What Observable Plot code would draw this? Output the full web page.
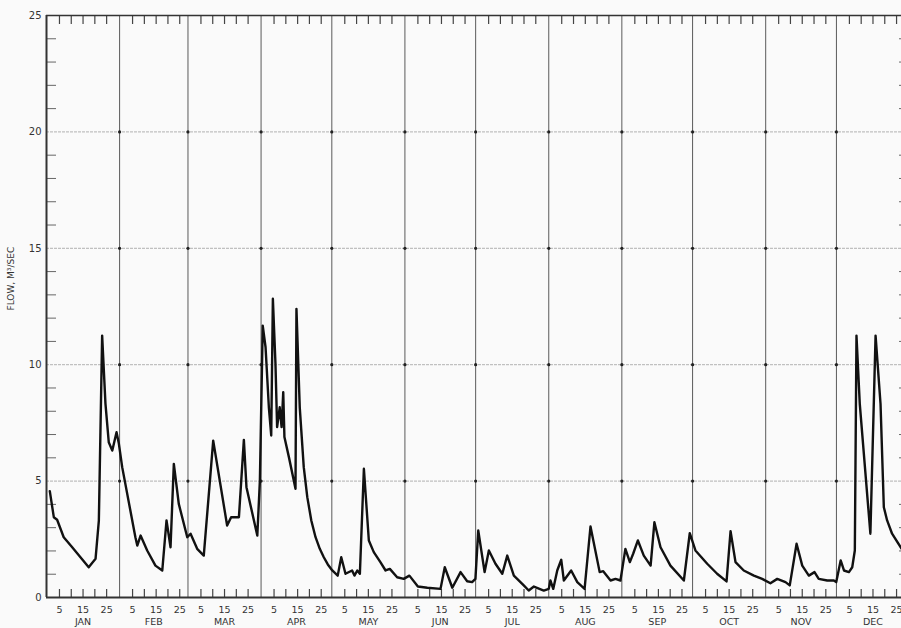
<!DOCTYPE html>
<html>
<head>
<meta charset="utf-8">
<script src="https://cdn.jsdelivr.net/npm/d3@7"></script>
<script src="https://cdn.jsdelivr.net/npm/@observablehq/plot@0.6"></script>
<style>
  html, body { margin: 0; padding: 0; background: #fafafa; }
  #wrap { width: 901px; height: 628px; overflow: hidden; }
  svg { overflow: hidden; }
</style>
</head>
<body>
<div id="wrap"></div>
<script>
// ---- data ----
const monthNames = ["JAN","FEB","MAR","APR","MAY","JUN","JUL","AUG","SEP","OCT","NOV","DEC"];
const monthDays = [31,29,31,30,31,30,31,31,30,31,30,31];
const dayTicks = [5,10,15,20,25];
const dayLabels = [5,15,25];
const yLabels = [0,5,10,15,20,25];
const yTitle = "FLOW, M\u00B3/SEC";

// day of year (0 = start of Jan 1) and flow (m3/s)
const days = [1.4,3.1,4.5,7.3,10.9,14.4,17.9,20.8,22.2,23.6,25.0,26.4,27.9,29.7,30.7,
  32.1,37.7,38.5,39.9,42.7,46.2,49.1,50.9,52.6,54.0,56.1,59.7,
  61.1,63.9,66.7,70.7,76.6,78.3,81.6,83.7,84.8,89.4,90.5,
  91.7,92.9,94.3,95.3,96.0,97.1,97.8,98.9,99.7,100.4,100.9,102.8,105.6,106.0,107.4,109.1,110.6,112.3,114.1,115.9,117.6,119.3,
  121.2,123.5,125.0,126.8,129.6,130.6,131.8,132.9,134.6,136.7,138.8,141.6,143.8,145.6,148.7,151.5,
  153.9,157.5,161.5,167.1,168.9,172.1,175.6,178.4,180.5,181.9,
  183.1,185.8,187.6,190.4,193.3,195.4,198.2,199.6,202.4,204.5,206.7,210.9,213.0,
  213.7,214.9,216.6,218.3,219.4,222.5,225.1,228.2,230.7,234.6,236.1,239.2,241.3,243.4,
  245.5,247.4,248.8,250.8,253.3,256.2,257.8,260.4,264.6,270.3,272.8,
  275.2,280.2,284.4,288.4,290.1,292.2,295.7,300.0,303.5,
  307.0,309.9,313.4,315.2,318.1,320.5,323.3,325.7,327.5,331.1,333.9,334.9,
  336.8,338.2,340.3,341.7,342.8,343.5,344.9,349.4,351.6,353.7,355.1,356.5,358.6,362.6,365.5];
const flow = [4.57,3.45,3.34,2.59,2.16,1.73,1.30,1.66,3.3,11.25,8.33,6.67,6.31,7.1,6.6,
  5.6,2.59,2.23,2.66,2.02,1.37,1.16,3.31,2.16,5.74,4.02,2.59,
  2.74,2.09,1.80,6.74,3.09,3.45,3.45,6.77,4.74,2.66,5.03,
  11.68,10.75,8.17,6.96,12.83,10.04,7.32,8.17,7.32,8.82,6.89,6.03,4.67,12.4,8.17,5.6,4.31,3.31,2.59,2.09,1.73,1.42,
  1.16,0.94,1.73,1.02,1.16,0.94,1.16,1.02,5.53,2.45,1.95,1.52,1.16,1.23,0.87,0.80,
  0.94,0.47,0.42,0.37,1.30,0.42,1.09,0.70,0.66,0.80,
  2.88,1.09,2.02,1.45,1.02,1.80,0.94,0.80,0.52,0.30,0.47,0.30,0.37,
  0.73,0.37,1.16,1.62,0.73,1.16,0.66,0.37,3.05,1.09,1.13,0.73,0.80,0.73,
  2.09,1.52,1.88,2.45,1.80,1.37,3.23,2.16,1.37,0.73,2.76,
  2.02,1.45,1.02,0.69,2.85,1.52,1.16,0.94,0.80,
  0.61,0.80,0.66,0.52,2.31,1.37,0.94,1.09,0.80,0.73,0.73,0.66,
  1.59,1.16,1.09,1.30,2.02,11.25,8.32,2.74,11.25,8.32,3.88,3.31,2.74,2.1,1.8];

// ---- derived tables ----
const monthStart = monthDays.map((d, i) => d3.sum(monthDays.slice(0, i)));
const yearLen = d3.sum(monthDays);
const series = days.map((d, i) => ({day: d, flow: flow[i]}));
const innerMonthLines = monthStart.slice(1);
const tickPos = monthStart.flatMap(s => dayTicks.map(d => s + d + 0.5));
const labelRows = monthStart.flatMap(s => dayLabels.map(d => ({x: s + d + 0.5, t: String(d)})));
const monthRows = monthNames.map((m, i) => ({x: monthStart[i] + monthDays[i] / 2, t: m}));
const minorY = d3.range(1, 25).filter(v => v % 5 !== 0);
const crosses = innerMonthLines.flatMap(x => [5,10,15,20].map(y => ({x, y})));

const pxPerDay = 2.358;
const pxPerUnit = 23.28;

const chart = Plot.plot({
  width: 901,
  height: 628,
  marginLeft: 46,
  marginRight: 0,
  marginTop: 15,
  marginBottom: 31,
  style: {background: "#fafafa", fontFamily: "DejaVu Sans, sans-serif", color: "#333"},
  x: {domain: [0, yearLen], range: [46, 46 + yearLen * pxPerDay], axis: null},
  y: {domain: [0, 25], axis: null},
  marks: [
    // horizontal grid
    Plot.ruleY([5,10,15,20], {x1: 0, x2: yearLen, stroke: "#a0a0a0", strokeWidth: 0.8, strokeDasharray: "3,1"}),
    // month lines
    Plot.ruleX(innerMonthLines, {y1: 0, y2: 25, stroke: "#5a5a5a", strokeWidth: 1}),
    Plot.dot(crosses, {x: "x", y: "y", r: 1.6, fill: "#222", stroke: null}),
    // minor y ticks, left and right
    Plot.ruleY(minorY, {x1: 0, x2: 10 / pxPerDay, stroke: "#666", strokeWidth: 1}),
    Plot.ruleY(minorY, {x1: yearLen - 10 / pxPerDay, x2: yearLen, stroke: "#666", strokeWidth: 1}),
    // top and bottom day ticks
    Plot.ruleX(tickPos, {y1: 25, y2: 25 - 9 / pxPerUnit, stroke: "#444", strokeWidth: 1.2}),
    Plot.ruleX(tickPos, {y1: 0, y2: 8 / pxPerUnit, stroke: "#444", strokeWidth: 1.2}),
    // frame
    Plot.ruleY([25], {x1: 0, x2: yearLen, stroke: "#333", strokeWidth: 1.6}),
    Plot.ruleY([0], {x1: 0, x2: yearLen, stroke: "#333", strokeWidth: 2}),
    Plot.ruleX([0], {y1: 0, y2: 25, stroke: "#333", strokeWidth: 2}),
    // flow hydrograph
    Plot.line(series, {x: "day", y: "flow", stroke: "#111", strokeWidth: 2.4, strokeLinejoin: "round"}),
    // labels
    Plot.text(yLabels, {x: 0, y: d => d, text: d => String(d), dx: -5, textAnchor: "end", fontSize: 10, fill: "#333"}),
    Plot.text(labelRows, {x: "x", y: 0, text: "t", dy: 12, fontSize: 9.5, fill: "#333"}),
    Plot.text(monthRows, {x: "x", y: 0, text: "t", dy: 24, fontSize: 9.5, fill: "#333", letterSpacing: 1.5}),
    Plot.text([yTitle], {frameAnchor: "left", rotate: -90, dx: -35, dy: 4, fontSize: 9, fill: "#333", letterSpacing: 1.5})
  ]
});
document.getElementById("wrap").appendChild(chart);
</script>
</body>
</html>
